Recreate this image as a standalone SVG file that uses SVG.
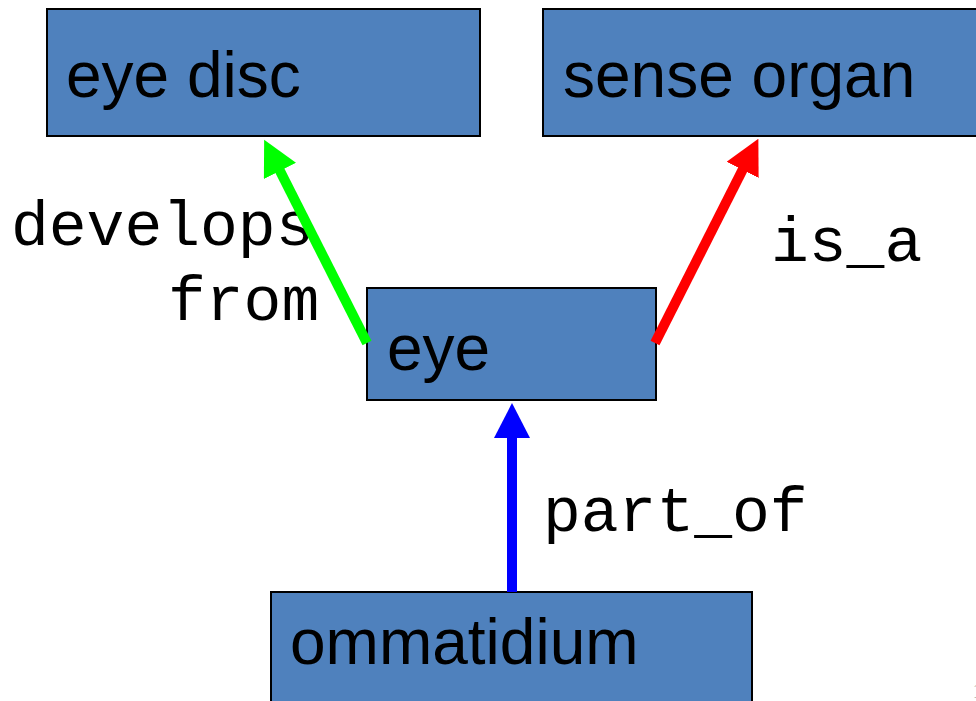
<svg xmlns="http://www.w3.org/2000/svg" width="976" height="701" viewBox="0 0 976 701">
  <style>
    .box { fill: #4F81BD; stroke: #000; stroke-width: 2; }
    .name { font-family: "Liberation Sans", Arial, sans-serif; font-size: 64px; fill: #000; }
    .rel { font-family: "Liberation Mono", "Courier New", monospace; font-size: 63px; fill: #000; }
    .link { fill: none; stroke-width: 10; stroke-linecap: butt; }
  </style>
  <defs>
    <marker id="headGreen" viewBox="0 0 35 36" refX="1" refY="18" markerWidth="35" markerHeight="36" markerUnits="userSpaceOnUse" orient="auto">
      <path d="M0,0 L35,18 L0,36 z" fill="#00FF00"/>
    </marker>
    <marker id="headRed" viewBox="0 0 35 36" refX="1" refY="18" markerWidth="35" markerHeight="36" markerUnits="userSpaceOnUse" orient="auto">
      <path d="M0,0 L35,18 L0,36 z" fill="#FF0000"/>
    </marker>
    <marker id="headBlue" viewBox="0 0 35 36" refX="1" refY="18" markerWidth="35" markerHeight="36" markerUnits="userSpaceOnUse" orient="auto">
      <path d="M0,0 L35,18 L0,36 z" fill="#0000FF"/>
    </marker>
  </defs>

  <rect width="976" height="701" fill="#fff"/>

  <g id="node-eye-disc">
    <rect class="box" x="47" y="9" width="433" height="127"/>
    <text class="name" x="66" y="97">eye disc</text>
  </g>

  <g id="node-sense-organ">
    <rect class="box" x="543" y="9" width="440" height="127"/>
    <text class="name" x="563" y="97">sense organ</text>
  </g>

  <g id="node-eye">
    <rect class="box" x="367" y="288" width="289" height="112"/>
    <text class="name" x="387" y="370">eye</text>
  </g>

  <g id="node-ommatidium">
    <rect class="box" x="271" y="592" width="481" height="120"/>
    <text class="name" x="290" y="664">ommatidium</text>
  </g>

  <!-- relation labels sit beneath the arrows -->
  <g id="labels">
    <text class="rel" x="11" y="245">develops</text>
    <text class="rel" x="168" y="320">from</text>
    <text class="rel" x="771" y="261">is_a</text>
    <text class="rel" x="543" y="531">part_of</text>
  </g>

  <g id="connectors">
    <line class="link" x1="367" y1="343" x2="279.5" y2="170" stroke="#00FF00" marker-end="url(#headGreen)"/>
    <line class="link" x1="655" y1="343" x2="743" y2="169" stroke="#FF0000" marker-end="url(#headRed)"/>
    <line class="link" x1="512" y1="592" x2="512" y2="437" stroke="#0000FF" marker-end="url(#headBlue)"/>
  </g>

  <!-- page number, mostly past the right edge -->
  <text x="972.5" y="698" font-family="Liberation Serif, serif" font-size="22" fill="#999">1</text>
</svg>
